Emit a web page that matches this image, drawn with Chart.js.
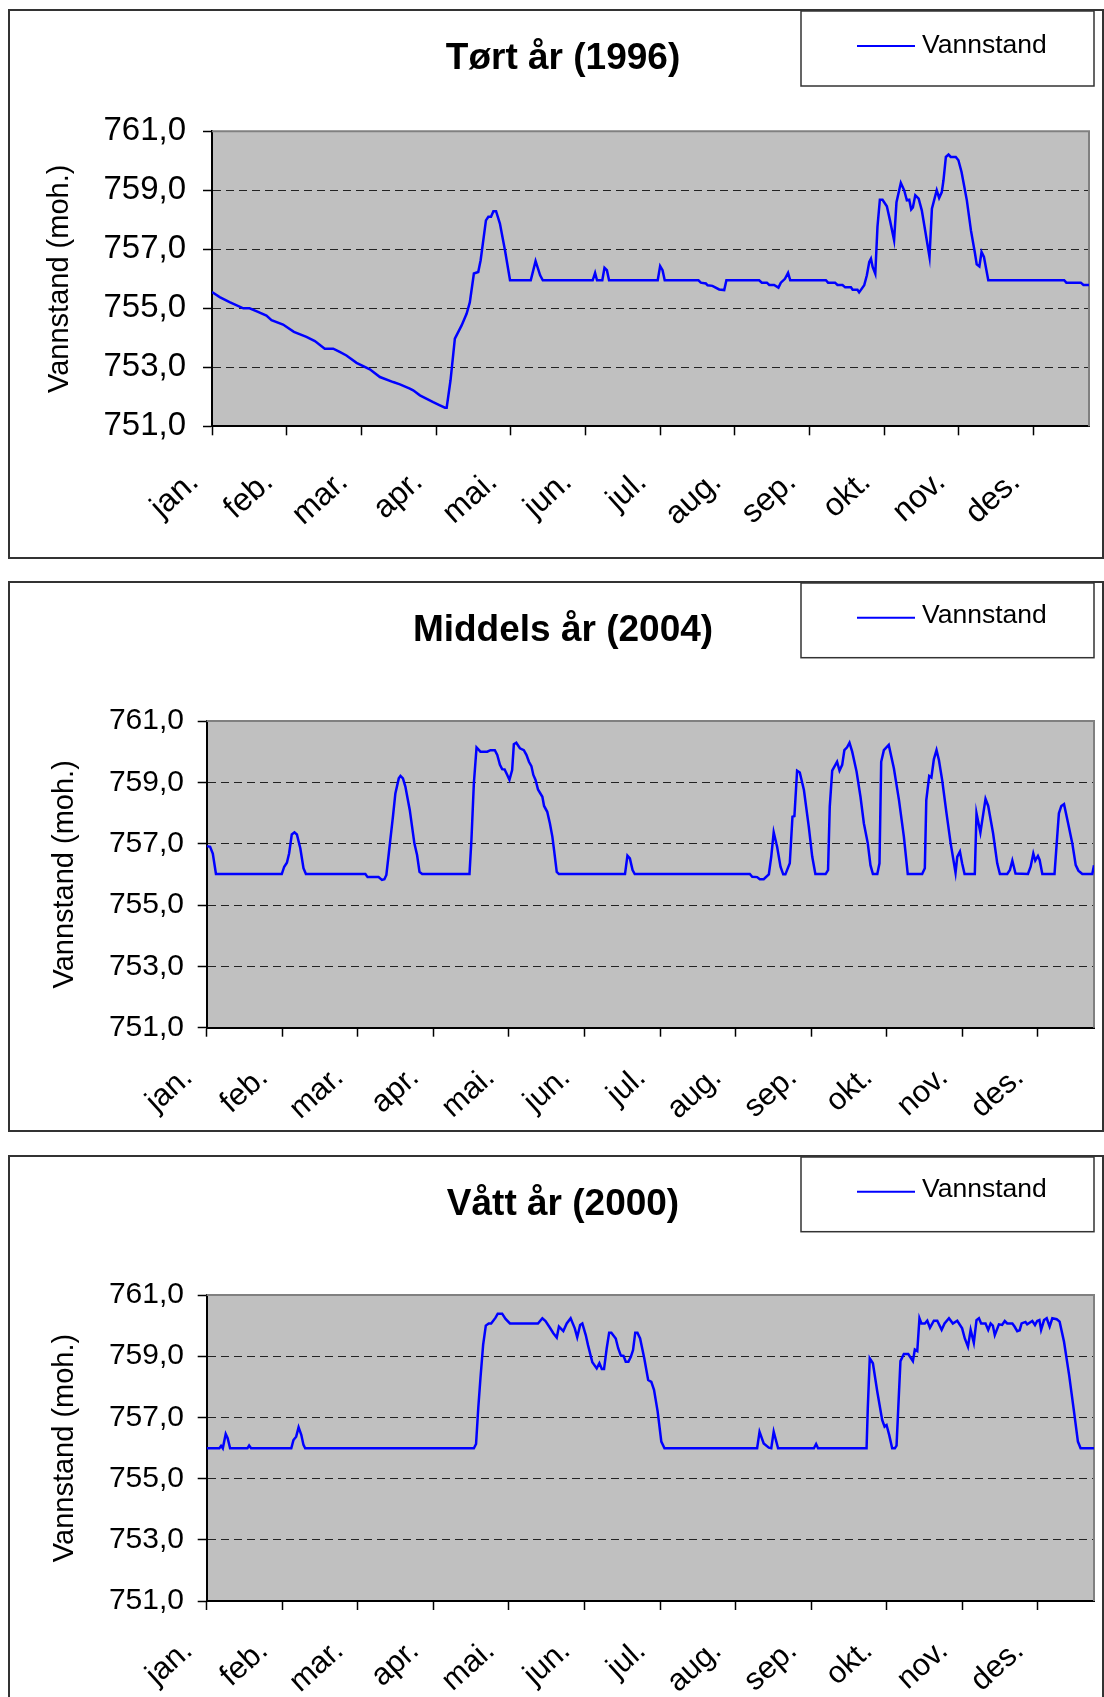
<!DOCTYPE html>
<html lang="no">
<head>
<meta charset="utf-8">
<title>Vannstand 1996, 2004, 2000</title>
<script src="https://cdn.jsdelivr.net/npm/chart.js@4.4.1/dist/chart.umd.min.js"></script>
<style>
  html, body { margin: 0; padding: 0; background: #fff; }
  body { position: relative; width: 1104px; height: 1697px; overflow: hidden; }
  .boks { position: absolute; left: 8px; width: 1096px; border: 2px solid #333; box-sizing: border-box; }
  canvas { position: absolute; left: 9px; }
</style>
</head>
<body>
<div class="boks" style="top:9px;height:550px"></div>
<div class="boks" style="top:581px;height:551px"></div>
<div class="boks" style="top:1155px;height:600px"></div>
<canvas id="graf-tort" width="1094" height="547" style="top:11px"></canvas>
<canvas id="graf-middels" width="1094" height="549" style="top:583px"></canvas>
<canvas id="graf-vatt" width="1094" height="540" style="top:1157px"></canvas>

<script>
const maaneder = ['jan.', 'feb.', 'mar.', 'apr.', 'mai.', 'jun.', 'jul.', 'aug.', 'sep.', 'okt.', 'nov.', 'des.'];
const maanedStart = [0, 31, 62, 93, 124, 155, 186, 217, 248, 279, 310, 341];
const yVerdier = [751, 753, 755, 757, 759, 761];

// Tørt år (1996) - knekkpunkter lest av figuren (dag i året, moh.)
const tortDag = [0, 3.2, 7.3, 13, 15.6, 19.1, 22.6, 24.7, 29.5, 34, 39.2, 42.7, 46.8, 50.3, 53, 55.8, 60, 65.5, 69.7, 75.2,
  78, 82.1, 83.5, 86.3, 91.8, 94.6, 96.7, 97.4, 99, 100.8, 103.6, 105.7, 107, 108.7, 110.5,
  111.5, 113.7, 114.7, 115.8, 116.8, 117.9, 119.5, 121.6, 123.7, 132.3, 134.3, 136.2, 137.3, 158, 159, 159.8, 162, 162.9, 163.9, 164.8,
  185, 186, 187, 187.9, 201.9, 202.9, 205, 205.7, 207.7, 210.5, 212.6, 213.5, 227.1, 228.2, 230.3, 231.3, 233.3, 235.1, 236.1, 237.8,
  239.1, 240, 254.8, 255.7, 258.6, 259.6, 261.7, 262.8, 265.2, 265.9, 267.9, 268.6, 270.7, 271.8, 272.8, 273.5, 274.2, 275.3, 276.2, 277.2,
  278.3, 280.1, 281.4, 283.1, 284.1, 285.9, 287.3, 288.4, 289.4, 290.2, 290.9, 291.9, 293.3, 294.6, 296, 297.8, 298.8, 299.7, 300.8, 301.8,
  302.9, 303.6, 304.6, 305.7, 306.6, 308.7, 309.8, 311.1, 313.3, 315, 316.7, 317.4, 318.5, 319.4, 320.4, 322.2, 353.7, 354.6, 360.6, 361.7, 364];
const tortNivaa = [755.55, 755.38, 755.21, 755.0, 755.0, 754.88, 754.75, 754.6, 754.45, 754.2, 754.03, 753.89, 753.63, 753.63, 753.52, 753.4, 753.15, 752.93, 752.67, 752.5,
  752.42, 752.28, 752.22, 752.05, 751.82, 751.71, 751.63, 751.63, 752.56, 753.97, 754.42, 754.82, 755.2, 756.18, 756.23,
  756.63, 757.98, 758.1, 758.1, 758.29, 758.29, 757.87, 756.97, 755.95, 755.95, 756.6, 756.12, 755.95, 755.95, 756.2, 755.95, 755.95, 756.37, 756.29, 755.95,
  755.95, 756.43, 756.29, 755.95, 755.95, 755.87, 755.84, 755.78, 755.76, 755.64, 755.62, 755.95, 755.95, 755.87, 755.87, 755.79, 755.79, 755.7, 755.87, 756.0,
  756.2, 755.95, 755.95, 755.87, 755.87, 755.79, 755.79, 755.71, 755.71, 755.63, 755.63, 755.54, 755.78, 756.12, 756.57, 756.68, 756.4, 756.17, 757.76, 758.68,
  758.68, 758.46, 757.98, 757.31, 758.6, 759.25, 759.0, 758.66, 758.68, 758.35, 758.42, 758.83, 758.72, 758.32, 757.64, 756.74, 758.38, 758.66, 759.0, 758.74,
  758.94, 759.34, 760.13, 760.21, 760.13, 760.13, 760.02, 759.62, 758.66, 757.64, 756.85, 756.49, 756.42, 756.91, 756.74, 755.95, 755.95, 755.87, 755.87, 755.79, 755.79];

// Middels år (2004)
const middelsDag = [0, 1.4, 2.5, 3.8, 30.8, 31.8, 32.9, 33.8, 34.9, 36, 37, 38.4, 39.7, 40.7, 65.1, 66, 70.5, 71.9, 72.9, 73.7,
  74.7, 76.4, 77.4, 78.8, 79.5, 80.5, 81.5, 83.3, 85.2, 86.3, 87.3, 88.4, 107.8, 108.6, 109.6, 110.7, 112.3, 115.1, 116.4, 118.2,
  119.2, 120.3, 121.2, 122.2, 123.3, 124.2, 125.3, 126, 127, 128.5, 130.1, 131.2, 132.2, 133.2, 134, 134.9, 135.9, 137.7, 138.4, 139.7,
  140.8, 141.8, 142.5, 143.6, 144.5, 171.6, 172.6, 173.6, 174.7, 175.6, 222.8, 223.8, 225.8, 226.9, 228.5, 230.6, 231.6, 232.6, 234, 235.4,
  236.5, 237.4, 239.2, 240.3, 241.1, 242.2, 243.3, 245, 247, 248.4, 249.7, 253.9, 254.9, 255.6, 256.6, 258.6, 259.6, 260.7, 261.6, 262.7,
  263.7, 264.8, 266.6, 268.2, 269.6, 271.2, 272.3, 273.3, 275.1, 276, 276.7, 277.8, 279.8, 281.9, 284, 286, 287.6, 293.5, 294.6, 295.2,
  296.4, 297.3, 298.3, 299.4, 300.4, 301.7, 303.5, 305.2, 307.2, 307.9, 309, 309.9, 310.9, 315.1, 315.8, 317.4, 319.5, 320.6, 322.6, 324.3,
  325.4, 328.4, 329.5, 330.5, 331.8, 336.9, 338, 339.1, 339.9, 341, 341.7, 342.8, 347.8, 348.9, 349.6, 350.6, 351.7, 353.4, 355.1, 356.5,
  357.6, 359.2, 363.3, 364];
const middelsNivaa = [756.92, 756.9, 756.68, 756.01, 756.01, 756.25, 756.38, 756.68, 757.3, 757.37, 757.3, 756.85, 756.2, 756.01, 756.01, 755.91, 755.91, 755.82, 755.84, 755.98,
  756.68, 757.88, 758.64, 759.13, 759.21, 759.13, 758.86, 758.1, 757.01, 756.63, 756.08, 756.01, 756.01, 757.12, 758.97, 760.14, 760.0, 760.0, 760.05, 760.05,
  759.89, 759.57, 759.43, 759.42, 759.24, 759.08, 759.4, 760.24, 760.29, 760.11, 760.05, 759.89, 759.67, 759.53, 759.24, 759.08, 758.77, 758.53, 758.23, 758.04,
  757.66, 757.23, 756.79, 756.08, 756.01, 756.01, 756.61, 756.52, 756.14, 756.01, 756.01, 755.92, 755.91, 755.84, 755.84, 756.0, 756.58, 757.37, 756.9, 756.25,
  756.0, 756.0, 756.36, 757.88, 757.9, 759.38, 759.32, 758.75, 757.55, 756.58, 756.01, 756.01, 756.14, 758.21, 759.38, 759.67, 759.38, 759.57, 760.05, 760.14,
  760.29, 760.0, 759.35, 758.53, 757.66, 757.01, 756.3, 756.01, 756.01, 756.36, 759.67, 760.05, 760.22, 759.46, 758.42, 757.23, 756.01, 756.01, 756.2, 758.42,
  759.21, 759.16, 759.75, 760.05, 759.72, 759.08, 757.99, 757.01, 756.05, 756.57, 756.74, 756.36, 756.01, 756.01, 757.99, 757.36, 758.46, 758.23, 757.34, 756.36,
  756.01, 756.01, 756.14, 756.45, 756.03, 756.01, 756.25, 756.68, 756.45, 756.6, 756.47, 756.01, 756.01, 757.23, 757.99, 758.23, 758.29, 757.66, 757.01, 756.3,
  756.12, 756.01, 756.01, 756.3];

// Vått år (2000)
const vattDag = [0, 5.2, 5.9, 6.6, 7.8, 8.6, 9.6, 16.7, 17.4, 18.2, 34.7, 35.6, 36.7, 37.7, 38.8, 39.7, 40.4, 109.6, 110.5, 111.4,
  112.3, 113.4, 114.5, 115.7, 116.7, 118.5, 119.4, 121.2, 122.6, 124.4, 135.9, 137.7, 139, 140.8, 142.2, 143.6, 144.5, 146.3, 147.7, 149.3,
  151, 152, 153.2, 154.1, 155.5, 156.4, 158.2, 160, 161.1, 162.1, 163, 164.1, 165.1, 166, 167.8, 168.8, 169.9, 171, 171.9, 173,
  174, 174.9, 175.8, 176.7, 177.8, 179.5, 181.1, 182.4, 183.5, 185, 186.5, 187.8, 225.8, 226.8, 228.5, 230.6, 231.6, 232.6, 234.4, 249.1,
  250, 250.8, 270.7, 271.2, 272, 273.3, 275.1, 277.1, 278.1, 278.9, 280, 281.2, 282.3, 283, 283.7, 284.6, 286, 287.8, 289.7, 290.5,
  291.5, 292.4, 293.2, 294.6, 295.6, 296.7, 298.3, 299.7, 301.5, 302.7, 304.5, 306.1, 307.9, 309.9, 311, 312.3, 313.4, 314.7, 315.8, 316.8,
  317.7, 319.5, 320.6, 321.6, 322.5, 323.3, 325, 326.3, 327.4, 328.4, 330.5, 331.4, 332.5, 333.5, 334.3, 335.9, 336.6, 338.7, 339.8, 340.7,
  341.6, 342.3, 343.5, 344.6, 345.8, 346.9, 348.7, 349.9, 351.7, 353.8, 355.8, 357.4, 358.5, 364];
const vattNivaa = [755.99, 755.99, 756.07, 755.99, 756.46, 756.32, 755.99, 755.99, 756.08, 755.99, 755.99, 756.26, 756.37, 756.68, 756.43, 756.1, 755.99, 755.99, 756.13, 757.3,
  758.28, 759.37, 760.0, 760.07, 760.07, 760.26, 760.39, 760.39, 760.22, 760.07, 760.07, 760.24, 760.15, 759.93, 759.75, 759.61, 759.97, 759.82, 760.07, 760.24,
  759.91, 759.62, 760.02, 760.07, 759.69, 759.37, 758.8, 758.6, 758.77, 758.58, 758.58, 759.26, 759.77, 759.77, 759.58, 759.26, 759.02, 759.01, 758.82, 758.82,
  758.98, 759.2, 759.77, 759.77, 759.58, 758.93, 758.22, 758.16, 757.9, 757.19, 756.21, 755.99, 755.99, 756.53, 756.15, 756.01, 755.99, 756.53, 755.99, 755.99,
  756.13, 755.99, 755.99, 757.3, 758.93, 758.77, 757.84, 756.92, 756.7, 756.75, 756.42, 755.99, 755.99, 756.08, 757.3, 758.84, 759.07, 759.07, 758.84, 759.22,
  759.17, 760.24, 760.07, 760.07, 760.16, 759.93, 760.16, 760.16, 759.86, 760.07, 760.24, 760.07, 760.16, 759.91, 759.58, 759.31, 759.86, 759.44, 760.18, 760.24,
  760.07, 760.07, 759.86, 760.07, 760.0, 759.69, 760.04, 760.02, 760.15, 760.07, 760.07, 759.97, 759.82, 759.85, 760.07, 760.12, 760.04, 760.15, 760.02, 760.15,
  760.18, 759.86, 760.18, 760.24, 759.97, 760.24, 760.21, 760.13, 759.47, 758.38, 757.19, 756.21, 755.99, 755.99];

const FONT = "'Liberation Sans', Arial, sans-serif";
Chart.defaults.font.family = FONT;
Chart.defaults.color = '#000';

const plotBakgrunn = {
  id: 'plotBakgrunn',
  beforeDraw(chart) {
    const { ctx, chartArea: a } = chart;
    ctx.save();
    ctx.fillStyle = '#c0c0c0';
    ctx.fillRect(a.left, a.top, a.right - a.left, a.bottom - a.top);
    ctx.restore();
  },
  beforeDatasetsDraw(chart) {
    const { ctx, chartArea: a } = chart;
    ctx.save();
    ctx.strokeStyle = '#808080';
    ctx.lineWidth = 2;
    ctx.beginPath();
    ctx.moveTo(a.left, a.top);
    ctx.lineTo(a.right, a.top);
    ctx.lineTo(a.right, a.bottom);
    ctx.stroke();
    ctx.restore();
  }
};

// forklaringen i en egen ramme oppe til høyre
const legendeBoks = {
  id: 'legendeBoks',
  afterDraw(chart, args, o) {
    const ctx = chart.ctx;
    const ds = chart.data.datasets[0];
    ctx.save();
    ctx.strokeStyle = '#333';
    ctx.lineWidth = 1.5;
    ctx.strokeRect(o.x, o.y, o.w, o.h);
    ctx.strokeStyle = ds.borderColor;
    ctx.lineWidth = 2;
    ctx.beginPath();
    ctx.moveTo(o.linjeX, o.linjeY);
    ctx.lineTo(o.linjeX + o.linjeLengde, o.linjeY);
    ctx.stroke();
    ctx.fillStyle = '#000';
    ctx.font = `26.5px ${FONT}`;
    ctx.textBaseline = 'middle';
    ctx.fillText(ds.label, o.tekstX, o.tekstY);
    ctx.restore();
  }
};

function tilPunkter(dager, nivaa) {
  return dager.map((d, i) => ({ x: d, y: nivaa[i] }));
}

function lagGraf(id, tittel, dager, nivaa, o) {
  return new Chart(document.getElementById(id), {
    type: 'line',
    data: {
      datasets: [{
        label: 'Vannstand',
        data: tilPunkter(dager, nivaa),
        borderColor: '#0000ff',
        borderWidth: 2.5,
        pointRadius: 0,
        tension: 0,
        fill: false
      }]
    },
    plugins: [plotBakgrunn, legendeBoks],
    options: {
      responsive: false,
      animation: false,
      devicePixelRatio: 1,
      layout: { padding: { left: o.venstre, right: o.hoyre, top: 0, bottom: 0 } },
      plugins: {
        legend: { display: false },
        tooltip: { enabled: false },
        title: {
          display: true,
          text: tittel,
          color: '#000',
          font: { size: 37, weight: 'bold', lineHeight: 1.2 },
          padding: { top: o.tittelTopp, bottom: o.tittelBunn }
        },
        legendeBoks: {
          x: 792, y: 0, w: 293, h: o.legendeHoyde,
          linjeX: 848, linjeLengde: 58, linjeY: o.linjeY,
          tekstX: 913, tekstY: o.tekstY
        }
      },
      scales: {
        x: {
          type: 'linear',
          min: 0,
          max: 364,
          afterBuildTicks: (s) => { s.ticks = maanedStart.map((v) => ({ value: v })); },
          afterFit: (s) => { s.height = o.xHoyde; },
          ticks: {
            callback: (v, i) => maaneder[i],
            autoSkip: false,
            minRotation: o.vinkel,
            maxRotation: o.vinkel,
            labelOffset: o.etikettForskyv,
            padding: o.etikettAvstand,
            color: '#000',
            font: { size: o.xFont, lineHeight: 1.2 }
          },
          grid: { drawOnChartArea: false, tickLength: 9, tickColor: '#000', tickWidth: 1.5 },
          border: { color: '#000', width: 2 }
        },
        y: {
          min: 751,
          max: 761,
          afterBuildTicks: (s) => { s.ticks = yVerdier.map((v) => ({ value: v })); },
          afterFit: (s) => { s.width = o.yBredde; },
          ticks: {
            callback: (v) => v.toFixed(1).replace('.', ','),
            padding: o.yAvstand,
            color: '#000',
            font: { size: o.yFont }
          },
          grid: {
            color: (c) => (c.tick && (c.tick.value === 751 || c.tick.value === 761) ? 'rgba(0,0,0,0)' : '#222'),
            lineWidth: 1,
            tickLength: 9,
            tickColor: '#000',
            tickWidth: 1.5,
            tickBorderDash: []
          },
          border: { color: '#000', width: 2, dash: [8, 5] },
          title: {
            display: true,
            text: 'Vannstand (moh.)',
            color: '#000',
            font: { size: 29, lineHeight: 1.2 },
            padding: { top: o.yTittelAvstand, bottom: 0 }
          }
        }
      }
    }
  });
}

lagGraf('graf-tort', 'Tørt år (1996)', tortDag, tortNivaa, {
  venstre: 28, hoyre: 14, tittelTopp: 25.8, tittelBunn: 50.1,
  yBredde: 175, xHoyde: 131.7, yTittelAvstand: 5.6, yAvstand: 17, yFont: 33,
  xFont: 32, vinkel: 42, etikettForskyv: -17.9, etikettAvstand: 28,
  legendeHoyde: 75, linjeY: 35, tekstY: 34.5
});

lagGraf('graf-middels', 'Middels år (2004)', middelsDag, middelsNivaa, {
  venstre: 23, hoyre: 9, tittelTopp: 25.1, tittelBunn: 68.5,
  yBredde: 174.7, xHoyde: 104.3, yTittelAvstand: 15.6, yAvstand: 13.7, yFont: 30,
  xFont: 31, vinkel: 42, etikettForskyv: -18.6, etikettAvstand: 22.5,
  legendeHoyde: 74.7, linjeY: 34.7, tekstY: 33
});

lagGraf('graf-vatt', 'Vått år (2000)', vattDag, vattNivaa, {
  venstre: 23, hoyre: 9, tittelTopp: 25.3, tittelBunn: 68.3,
  yBredde: 174.7, xHoyde: 96, yTittelAvstand: 15.6, yAvstand: 13.7, yFont: 30,
  xFont: 31, vinkel: 42, etikettForskyv: -18.6, etikettAvstand: 22.5,
  legendeHoyde: 74.7, linjeY: 34.7, tekstY: 33
});
</script>
</body>
</html>
